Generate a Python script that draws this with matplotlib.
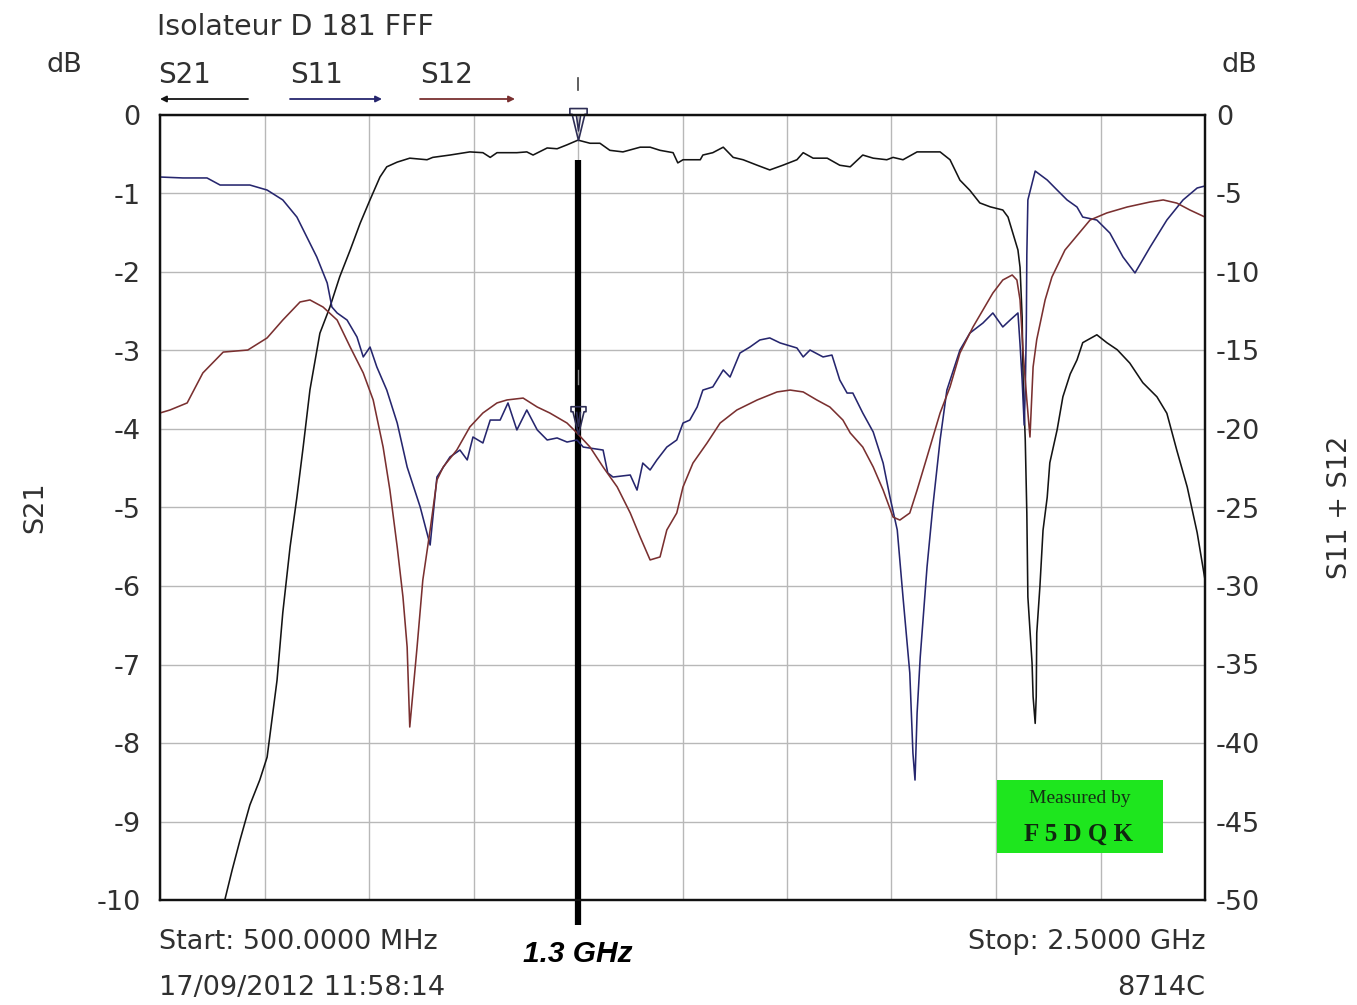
import numpy as np
import matplotlib
matplotlib.use("Agg")
import matplotlib.pyplot as plt
from matplotlib.patches import Rectangle, FancyArrowPatch
from matplotlib.path import Path

plt.rcParams['font.family'] = ['DejaVu Sans']

# sweep 500 MHz .. 2.5 GHz
f_start, f_stop = 500, 2500
marker_f = 1300

# S21 (left axis, dB)
s21_f = [610, 624, 638, 653, 672, 691, 705, 724, 735, 749,
         762, 774, 787, 806, 825, 844, 864, 883, 902, 921,
         934, 954, 978, 1011, 1022, 1055, 1093, 1118, 1132, 1145,
         1183, 1202, 1214, 1241, 1260, 1279, 1300, 1323, 1342, 1361,
         1386, 1419, 1438, 1457, 1482, 1491, 1501, 1534, 1539, 1558,
         1578, 1597, 1616, 1643, 1667, 1692, 1719, 1731, 1750, 1777,
         1801, 1821, 1845, 1865, 1891, 1903, 1922, 1949, 1974, 1993,
         2012, 2031, 2050, 2069, 2089, 2113, 2123, 2142, 2146, 2150,
         2152, 2156, 2159, 2161, 2169, 2171, 2175, 2177, 2178, 2184,
         2190, 2198, 2203, 2217, 2228, 2242, 2255, 2266, 2293, 2312,
         2332, 2356, 2381, 2408, 2427, 2446, 2466, 2485, 2500]
s21_db = [-10.5, -10.0, -9.62, -9.24, -8.79, -8.47, -8.18, -7.20, -6.34, -5.50,
          -4.87, -4.23, -3.50, -2.78, -2.45, -2.06, -1.72, -1.38, -1.08, -0.79,
          -0.66, -0.60, -0.55, -0.57, -0.54, -0.51, -0.47, -0.48, -0.54, -0.48,
          -0.48, -0.47, -0.51, -0.42, -0.43, -0.38, -0.32, -0.36, -0.36, -0.45,
          -0.47, -0.41, -0.41, -0.45, -0.48, -0.61, -0.57, -0.57, -0.51, -0.48,
          -0.41, -0.54, -0.57, -0.64, -0.70, -0.64, -0.57, -0.48, -0.55, -0.55,
          -0.64, -0.66, -0.51, -0.55, -0.57, -0.54, -0.57, -0.47, -0.47, -0.47,
          -0.57, -0.83, -0.96, -1.12, -1.17, -1.21, -1.30, -1.72, -1.94, -2.57,
          -3.41, -4.14, -5.07, -6.14, -6.98, -7.41, -7.75, -7.41, -6.60, -6.01,
          -5.29, -4.87, -4.43, -4.01, -3.59, -3.30, -3.12, -2.90, -2.80, -2.90,
          -2.99, -3.16, -3.41, -3.59, -3.80, -4.27, -4.74, -5.32, -5.92]

# S11 (right axis, dB)
s11_f = [500, 544, 590, 615, 672, 705, 735, 762, 781, 800,
         820, 829, 839, 858, 877, 889, 902, 915, 934, 954,
         973, 998, 1017, 1030, 1055, 1074, 1088, 1099, 1118, 1132,
         1151, 1166, 1183, 1202, 1222, 1241, 1260, 1279, 1298, 1310,
         1348, 1357, 1367, 1400, 1413, 1424, 1438, 1451, 1470, 1489,
         1501, 1514, 1528, 1539, 1558, 1578, 1591, 1610, 1629, 1648,
         1667, 1687, 1719, 1731, 1744, 1769, 1786, 1801, 1815, 1826,
         1845, 1865, 1884, 1897, 1911, 1922, 1935, 1941, 1945, 1949,
         1955, 1968, 1979, 1993, 2006, 2031, 2050, 2075, 2094, 2113,
         2127, 2142, 2146, 2150, 2154, 2156, 2158, 2159, 2161, 2175,
         2198, 2217, 2236, 2255, 2266, 2293, 2318, 2343, 2366, 2395,
         2427, 2458, 2485, 2500]
s11_db = [-3.95, -4.01, -4.01, -4.46, -4.46, -4.78, -5.41, -6.50, -7.77, -9.04,
          -10.70, -12.23, -12.61, -13.06, -14.14, -15.41, -14.78, -16.05, -17.52, -19.62,
          -22.42, -24.97, -27.39, -23.06, -21.78, -21.34, -21.97, -20.51, -20.89, -19.43,
          -19.43, -18.34, -20.06, -18.79, -20.06, -20.70, -20.57, -20.83, -20.70, -21.15,
          -21.34, -22.80, -23.06, -22.93, -23.89, -22.17, -22.61, -21.97, -21.15, -20.70,
          -19.62, -19.43, -18.60, -17.52, -17.32, -16.24, -16.69, -15.16, -14.78, -14.33,
          -14.20, -14.52, -14.84, -15.41, -14.97, -15.41, -15.29, -16.88, -17.71, -17.71,
          -18.98, -20.19, -22.17, -24.33, -26.43, -30.70, -35.54, -40.64, -42.36, -38.09,
          -34.52, -28.79, -24.97, -20.70, -17.52, -14.97, -13.89, -13.25, -12.61, -13.50,
          -13.06, -12.61, -14.60, -16.88, -19.75, -17.50, -13.69, -8.90, -5.41, -3.57,
          -4.14, -4.78, -5.41, -5.86, -6.50, -6.69, -7.52, -9.04, -10.06, -8.41,
          -6.69, -5.41, -4.65, -4.52]

# S12 (right axis, dB)
s12_f = [500, 519, 552, 582, 621, 668, 705, 735, 768, 787,
         812, 839, 864, 889, 908, 927, 940, 954, 965, 973,
         978, 992, 1003, 1017, 1030, 1042, 1068, 1093, 1118, 1145,
         1164, 1195, 1222, 1246, 1279, 1298, 1323, 1348, 1375, 1400,
         1419, 1438, 1457, 1470, 1489, 1501, 1520, 1547, 1572, 1604,
         1643, 1681, 1706, 1731, 1757, 1782, 1807, 1821, 1845, 1865,
         1884, 1903, 1916, 1935, 1949, 1968, 1993, 2012, 2031, 2056,
         2075, 2094, 2113, 2131, 2140, 2146, 2152, 2159, 2165, 2171,
         2178, 2194, 2207, 2232, 2280, 2312, 2351, 2395, 2420, 2446,
         2471, 2500]
s12_db = [-18.98, -18.79, -18.34, -16.43, -15.10, -14.97, -14.20, -13.06, -11.91, -11.78,
          -12.23, -13.06, -14.78, -16.43, -18.15, -21.15, -23.89, -27.52, -30.70, -33.89,
          -38.98, -33.89, -29.62, -26.43, -23.25, -22.42, -21.34, -19.87, -18.98, -18.34,
          -18.15, -18.03, -18.60, -18.98, -19.62, -20.25, -21.15, -22.42, -23.69, -25.35,
          -26.88, -28.34, -28.15, -26.43, -25.35, -23.69, -22.17, -20.89, -19.62, -18.79,
          -18.15, -17.64, -17.52, -17.64, -18.15, -18.60, -19.43, -20.25, -21.15, -22.42,
          -23.89, -25.61, -25.80, -25.35, -23.89, -21.78, -18.98, -17.32, -15.16, -13.50,
          -12.42, -11.34, -10.51, -10.19, -10.51, -11.78, -15.16, -18.15, -20.51, -16.05,
          -14.30, -11.78, -10.32, -8.60, -6.69, -6.24, -5.86, -5.54, -5.41, -5.61,
          -6.05, -6.50]

W, H = 1357, 1005
fig = plt.figure(figsize=(W / 100, H / 100), dpi=100)
fig.patch.set_facecolor('white')

def fx(x):
    return x / W

def fy(y):
    return 1 - y / H

L, R, T, B = 160, 1205, 115, 900
ax = fig.add_axes([fx(L), fy(B), fx(R) - fx(L), fy(T) - fy(B)])
ax2 = ax.twinx()

txt = '#303030'
c21, c11, c12 = '#141414', '#26266e', '#7a3030'
fs = 19.5

ax.set_xlim(f_start, f_stop)
ax.set_ylim(-10, 0)
ax2.set_ylim(-50, 0)
ax.set_xticks(np.arange(f_start, f_stop + 1, 200))
ax.set_yticks(np.arange(-10, 1, 1))
ax2.set_yticks(np.arange(-50, 1, 5))
ax.set_xticklabels([])
ax.set_yticklabels([str(v) for v in range(-10, 1)])
ax2.set_yticklabels([str(v) for v in range(-50, 1, 5)])
ax.grid(True, color='#b8b8b8', linewidth=1.0)
ax.tick_params(axis='x', length=0)
ax.tick_params(axis='y', length=0, pad=14, labelsize=fs, labelcolor=txt)
ax2.tick_params(axis='y', length=0, pad=8, labelsize=fs, labelcolor=txt)
for a in (ax, ax2):
    for s in a.spines.values():
        s.set_linewidth(1.6)
        s.set_color('#111111')

ax.plot(s21_f, s21_db, color=c21, lw=1.15)
ax2.plot(s11_f, s11_db, color=c11, lw=1.15)
ax2.plot(s12_f, s12_db, color=c12, lw=1.15)

# marker line at 1.3 GHz
ax.plot([marker_f, marker_f], [-0.57, -10.32], color='black', lw=4.5,
        solid_capstyle='butt', clip_on=False, zorder=5)

# marker glyph: small bar on top of an inverted triangle, tip on the trace
tri = Path([(-0.27, 1.0), (0.27, 1.0), (0.27, 0.82), (0.2, 0.82), (0, 0),
            (-0.2, 0.82), (-0.27, 0.82), (-0.27, 1.0),
            (-0.07, 0.82), (0, 0.3), (0.07, 0.82)],
           [Path.MOVETO, Path.LINETO, Path.LINETO, Path.LINETO, Path.LINETO,
            Path.LINETO, Path.LINETO, Path.CLOSEPOLY,
            Path.MOVETO, Path.LINETO, Path.LINETO])
m21 = np.interp(marker_f, s21_f, s21_db)
m12 = np.interp(marker_f, s12_f, s12_db)
ax.plot([marker_f], [m21], marker=tri, ms=46, mfc='none', mec='#2e2e55', mew=1.2,
        clip_on=False, zorder=6)
ax2.plot([marker_f], [m12], marker=tri, ms=40, mfc='none', mec='#2e2e55', mew=1.2,
         clip_on=False, zorder=6)
fig.add_artist(plt.Line2D([fx(578), fx(578)], [fy(78), fy(90)], color='#444444', lw=1.2))
fig.add_artist(plt.Line2D([fx(578), fx(578)], [fy(370), fy(384)], color='#888888', lw=1.0))

# green stamp
ax.add_patch(Rectangle((fx(997), fy(853)), fx(1163) - fx(997), fy(780) - fy(853),
                       transform=fig.transFigure, facecolor='#1ee61e', edgecolor='none',
                       zorder=7))
fig.text(fx(1080), fy(798), 'Measured by', family='Liberation Serif', fontsize=14,
         color='#143014', ha='center', va='center', zorder=8)
fig.text(fx(1078), fy(834), 'F 5 D Q K', family='Liberation Serif', fontweight='bold',
         fontsize=18, color='#102810', ha='center', va='center', zorder=8)

# header texts
fig.text(fx(157), fy(27), 'Isolateur D 181 FFF', fontsize=20.5, color=txt, va='center')
fig.text(fx(64), fy(65), 'dB', fontsize=fs, color=txt, ha='center', va='center')
fig.text(fx(1239), fy(65), 'dB', fontsize=fs, color=txt, ha='center', va='center')

legend = [('S21', 158, 160, 248, 'left', c21),
          ('S11', 290, 290, 382, 'right', c11),
          ('S12', 420, 420, 515, 'right', c12)]
for name, tx, x0, x1, direc, col in legend:
    fig.text(fx(tx), fy(75), name, fontsize=20, color=txt, va='center')
    if direc == 'left':
        start, end = (fx(x1), fy(99)), (fx(x0), fy(99))
    else:
        start, end = (fx(x0), fy(99)), (fx(x1), fy(99))
    fig.add_artist(FancyArrowPatch(
        start, end, transform=fig.transFigure, arrowstyle='-|>', mutation_scale=9,
        color=col, lw=1.3, shrinkA=0, shrinkB=0))

fig.text(fx(35), fy(507), 'S21', fontsize=fs, color=txt, rotation=90,
         ha='center', va='center')
fig.text(fx(1340), fy(507), 'S11 + S12', fontsize=fs, color=txt, rotation=90,
         ha='center', va='center')

# footer
fig.text(fx(159), fy(942), 'Start: 500.0000 MHz', fontsize=fs, color=txt, va='center')
fig.text(fx(159), fy(988), '17/09/2012 11:58:14', fontsize=fs, color=txt, va='center')
fig.text(fx(1205), fy(942), 'Stop: 2.5000 GHz', fontsize=fs, color=txt, ha='right',
         va='center')
fig.text(fx(1205), fy(988), '8714C', fontsize=fs, color=txt, ha='right', va='center')
fig.text(fx(578), fy(954), '1.3 GHz', family='Liberation Sans', fontsize=21.5,
         fontweight='bold', style='italic', color='black', ha='center', va='center')

fig.savefig('out.png', dpi=100)
